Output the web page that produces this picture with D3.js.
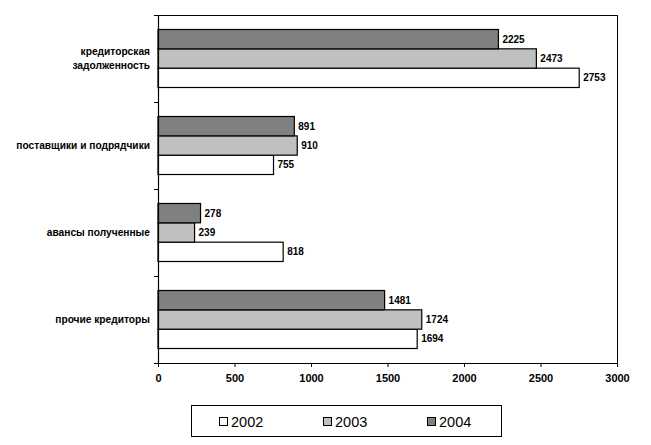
<!DOCTYPE html>
<html><head><meta charset="utf-8">
<script src="https://cdn.jsdelivr.net/npm/d3@7"></script>
<style>body{margin:0;background:#fff}svg{display:block}text{font-family:"Liberation Sans",Arial,sans-serif}</style>
</head><body><svg id="c" width="651" height="445"></svg>
<script>
const categories = [["кредиторская","задолженность"],["поставщики и подрядчики"],["авансы полученные"],["прочие кредиторы"]];
const seriesNames = ["2002","2003","2004"];
const values2002 = [2753, 755, 818, 1694];
const values2003 = [2473, 910, 239, 1724];
const values2004 = [2225, 891, 278, 1481];
const xTicks = [0,500,1000,1500,2000,2500,3000];
const colors = {"2002":"#ffffff","2003":"#c0c0c0","2004":"#808080"};
const seriesValues = {"2002":values2002,"2003":values2003,"2004":values2004};

const svg = d3.select("#c");
const L=158, R=617, T=15, B=363;
const x = d3.scaleLinear().domain([0,3000]).range([L,R]);
const y = d3.scaleBand().domain(d3.range(categories.length)).range([T,B]).paddingInner(1/3).paddingOuter(1/6);
const ys = d3.scaleBand().domain(["2004","2003","2002"]).range([0,y.bandwidth()]);

// plot border
svg.append("rect").attr("x",L).attr("y",T).attr("width",R-L).attr("height",B-T).attr("fill","none").attr("stroke","#000").attr("stroke-width",1).attr("shape-rendering","crispEdges");

// bars
categories.forEach((c,i)=>{
  seriesNames.forEach(s=>{
    const v = seriesValues[s][i];
    const yy = y(i)+ys(s);
    svg.append("rect").attr("x",x(0)).attr("y",yy).attr("width",x(v)-x(0)).attr("height",ys.bandwidth())
      .attr("fill",colors[s]).attr("stroke","#000").attr("stroke-width",1.2);
    svg.append("text").attr("x",x(v)+4).attr("y",yy+ys.bandwidth()/2).attr("dy","0.35em")
      .attr("font-size","10px").attr("font-weight","bold").text(v);
  });
});

// x axis
const xa = svg.append("g").attr("transform",`translate(0,${B})`).call(d3.axisBottom(x).tickValues(xTicks).tickFormat(d3.format("d")).tickSize(4).tickSizeOuter(0).tickPadding(7));
xa.select(".domain").attr("stroke","#000").attr("stroke-width",1.2);
xa.selectAll("line").attr("stroke","#000");
xa.selectAll("text").attr("font-size","11px").attr("font-weight","bold").attr("fill","#000").attr("font-family","'Liberation Sans',Arial,sans-serif");

// y axis with ticks at category boundaries
const yEdge = d3.scaleLinear().domain([0,categories.length]).range([T,B]);
const ya = svg.append("g").attr("transform",`translate(${L},0)`).call(d3.axisLeft(yEdge).ticks(4).tickSize(4).tickFormat(""));
ya.select(".domain").attr("stroke","#000").attr("stroke-width",1.2);
ya.selectAll("line").attr("stroke","#000");

// category labels
categories.forEach((c,i)=>{
  const cy = y(i)+y.bandwidth()/2;
  const lh = 14;
  c.forEach((line,j)=>{
    svg.append("text").attr("x",150).attr("y",cy+(j-(c.length-1)/2)*lh).attr("dy","0.35em")
      .attr("text-anchor","end").attr("font-size","10.2px").attr("font-weight","bold").text(line);
  });
});

// legend
const lg = svg.append("g");
lg.append("rect").attr("x",191.5).attr("y",405.5).attr("width",310).attr("height",31).attr("fill","#fff").attr("stroke","#000").attr("stroke-width",1);
seriesNames.forEach((s,k)=>{
  const lx = 219 + k*104;
  lg.append("rect").attr("x",lx+0.5).attr("y",417.5).attr("width",8).attr("height",8).attr("fill",colors[s]).attr("stroke","#000");
  lg.append("text").attr("x",lx+12).attr("y",421.5).attr("dy","0.35em").attr("font-size","14.5px").text(s);
});
</script></body></html>
